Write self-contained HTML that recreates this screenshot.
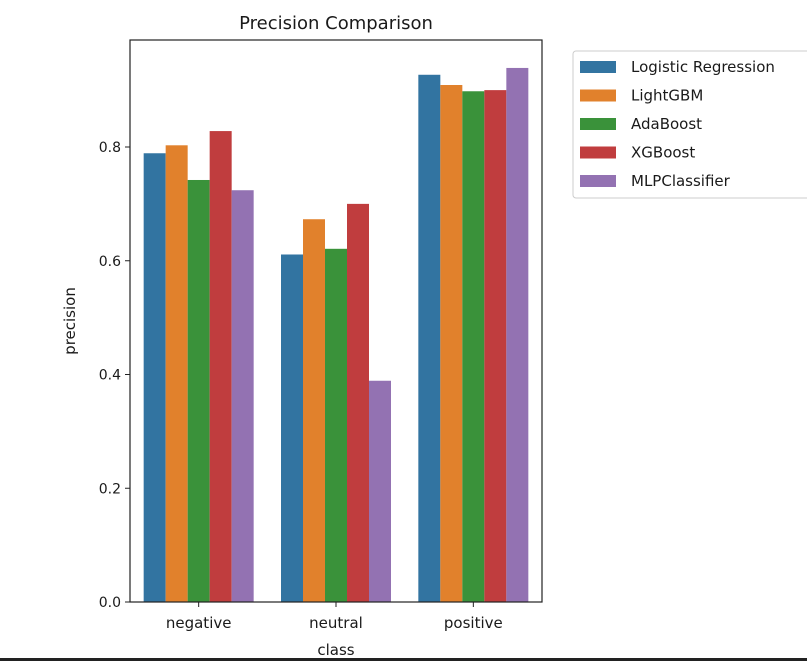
<!DOCTYPE html>
<html><head><meta charset="utf-8"><style>
body{margin:0;background:#fff;width:807px;height:661px;overflow:hidden}
svg text{font-family:"DejaVu Sans","Liberation Sans",sans-serif;fill:#1a1a1a}
</style></head><body>
<svg id="c" width="807" height="661">
<rect x="0" y="658" width="807" height="3" fill="#222"/>
</svg>
<script>
const categories=["negative","neutral","positive"];
const models=["Logistic Regression","LightGBM","AdaBoost","XGBoost","MLPClassifier"];
const colors=["#3274a1","#e1812c","#3a923a","#c03d3e","#9372b2"];
const lr=[0.789,0.611,0.927];
const lgbm=[0.803,0.673,0.909];
const ada=[0.742,0.621,0.898];
const xgb=[0.828,0.700,0.900];
const mlp=[0.724,0.389,0.939];
const yTicks=[0,0.2,0.4,0.6,0.8];
const yTickLabels=["0.0","0.2","0.4","0.6","0.8"];
const series=[lr,lgbm,ada,xgb,mlp];
const NS="http://www.w3.org/2000/svg",svg=document.getElementById('c');
const L=130,R=542,T=40,B=602;
const y=v=>B-v*568.75;
const gw=(R-L)/categories.length;
const xc=i=>L+gw*(i+0.5);
const bw=22;
function el(t,a,p){const e=document.createElementNS(NS,t);for(const k in a)e.setAttribute(k,a[k]);(p||svg).appendChild(e);return e;}
series.forEach((s,si)=>s.forEach((v,ci)=>{
 const b=el('rect',{x:xc(ci)+(si-2.5)*bw,y:y(v),width:bw,height:B-y(v),fill:colors[si]});
 
 
}));
const ax=el('rect',{x:L,y:T,width:R-L,height:B-T,fill:'none',stroke:'#222','stroke-width':1.2});


yTicks.forEach((v,i)=>{
 el('line',{x1:L-5,x2:L,y1:y(v),y2:y(v),stroke:'#222'});
 const t=el('text',{x:L-9,y:y(v)+5,'text-anchor':'end','font-size':14});t.textContent=yTickLabels[i];
 
 
});
categories.forEach((c,i)=>{
 el('line',{x1:xc(i),x2:xc(i),y1:B,y2:B+5,stroke:'#222'});
 const t=el('text',{x:xc(i),y:B+26,'text-anchor':'middle','font-size':15});t.textContent=c;
 
 
});
let t=el('text',{x:(L+R)/2,y:655,'text-anchor':'middle','font-size':15});t.textContent='class';


t=el('text',{x:0,y:0,'text-anchor':'middle','font-size':15,transform:`translate(75,${(T+B)/2}) rotate(-90)`});t.textContent='precision';


t=el('text',{x:(L+R)/2,y:29,'text-anchor':'middle','font-size':18});t.textContent='Precision Comparison';


const lg=el('rect',{x:573,y:51,width:250,height:147,rx:3,fill:'#fff',stroke:'#ccc'});


models.forEach((m,i)=>{
 const cy=66+i*28.5;
 el('rect',{x:580,y:cy-5,width:36,height:12,fill:colors[i]});
 const tt=el('text',{x:631,y:cy+6,'font-size':15});tt.textContent=m;
 
 
});
</script>
</body></html>
